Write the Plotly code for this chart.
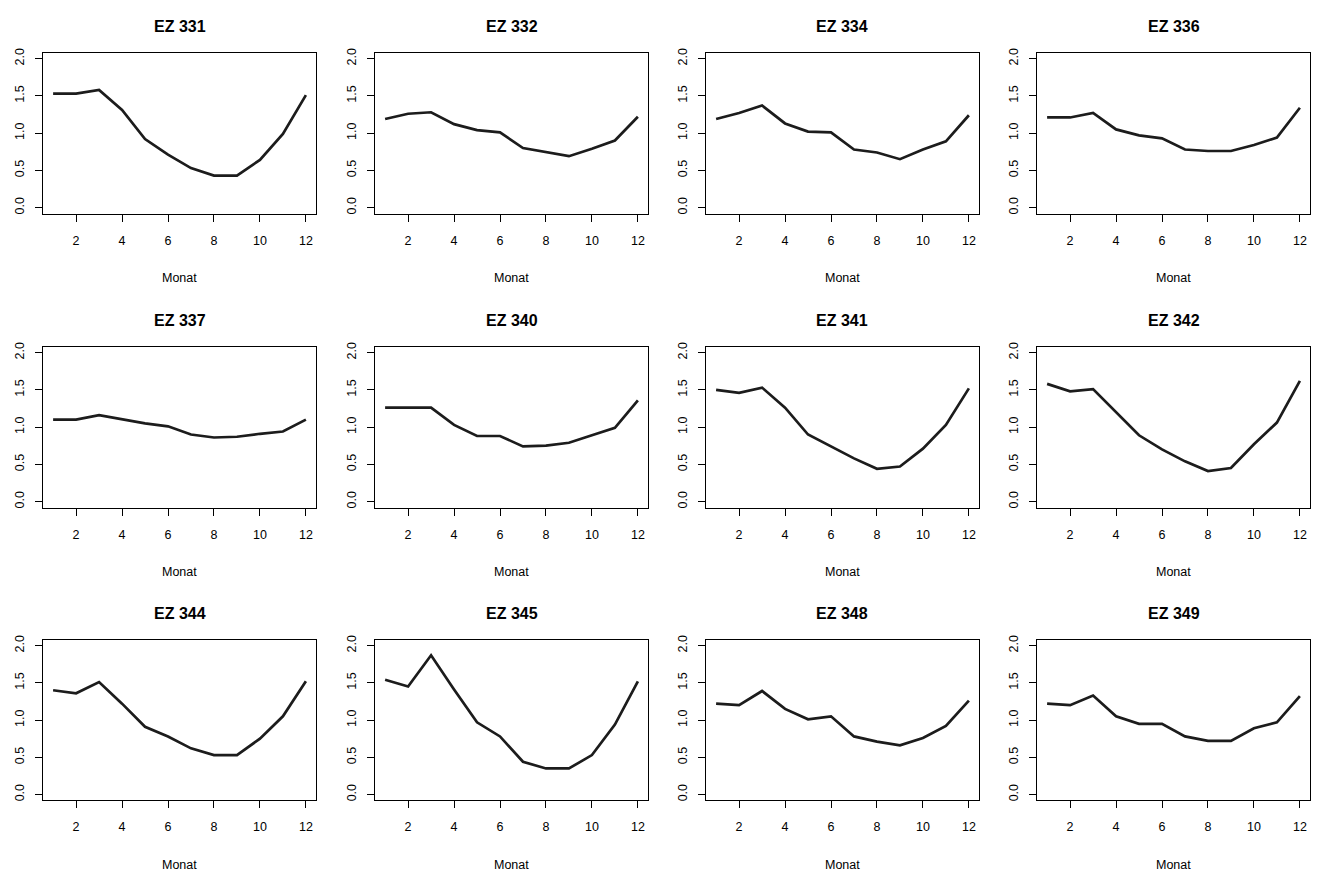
import plotly.graph_objects as go

# Monthly factors per station
months = list(range(1, 13))
stations = ["EZ 331", "EZ 332", "EZ 334", "EZ 336",
            "EZ 337", "EZ 340", "EZ 341", "EZ 342",
            "EZ 344", "EZ 345", "EZ 348", "EZ 349"]

ez331 = [1.53, 1.53, 1.58, 1.31, 0.92, 0.71, 0.53, 0.43, 0.43, 0.64, 0.99, 1.51]
ez332 = [1.19, 1.26, 1.28, 1.12, 1.04, 1.01, 0.80, 0.75, 0.69, 0.79, 0.90, 1.22]
ez334 = [1.19, 1.27, 1.37, 1.13, 1.02, 1.01, 0.78, 0.74, 0.65, 0.78, 0.89, 1.24]
ez336 = [1.21, 1.21, 1.27, 1.05, 0.97, 0.93, 0.78, 0.76, 0.76, 0.84, 0.94, 1.34]
ez337 = [1.10, 1.10, 1.16, 1.10, 1.05, 1.01, 0.90, 0.86, 0.87, 0.91, 0.94, 1.10]
ez340 = [1.26, 1.26, 1.26, 1.03, 0.88, 0.88, 0.74, 0.75, 0.79, 0.89, 0.99, 1.36]
ez341 = [1.50, 1.46, 1.53, 1.26, 0.90, 0.74, 0.58, 0.44, 0.47, 0.71, 1.03, 1.52]
ez342 = [1.58, 1.48, 1.51, 1.20, 0.89, 0.70, 0.54, 0.41, 0.45, 0.77, 1.06, 1.62]
ez344 = [1.40, 1.36, 1.51, 1.22, 0.91, 0.78, 0.62, 0.53, 0.53, 0.75, 1.05, 1.52]
ez345 = [1.54, 1.45, 1.87, 1.41, 0.97, 0.78, 0.44, 0.35, 0.35, 0.53, 0.94, 1.52]
ez348 = [1.22, 1.20, 1.39, 1.15, 1.01, 1.05, 0.78, 0.71, 0.66, 0.76, 0.92, 1.26]
ez349 = [1.22, 1.20, 1.33, 1.05, 0.95, 0.95, 0.78, 0.72, 0.72, 0.89, 0.97, 1.32]

series = [ez331, ez332, ez334, ez336, ez337, ez340,
          ez341, ez342, ez344, ez345, ez348, ez349]

x_ticks = [2, 4, 6, 8, 10, 12]
y_ticks = [0.0, 0.5, 1.0, 1.5, 2.0]

W, H = 1319, 873
box_left = [43, 375, 706, 1037]
box_w = 273
box_top = [48, 344, 639]
box_h = 162

FONT = "Liberation Sans, Arial, sans-serif"

fig = go.Figure()
layout = dict(
    width=W, height=H,
    margin=dict(l=0, r=0, t=0, b=0),
    paper_bgcolor="white", plot_bgcolor="white",
    showlegend=False,
    font=dict(family=FONT, color="black", size=12),
    annotations=[],
)

for i, (name, vals) in enumerate(zip(stations, series)):
    r, c = divmod(i, 4)
    k = "" if i == 0 else str(i + 1)
    x0 = box_left[c] / W
    x1 = (box_left[c] + box_w) / W
    y1 = 1 - box_top[r] / H
    y0 = 1 - (box_top[r] + box_h) / H

    fig.add_trace(go.Scatter(
        x=months, y=vals, mode="lines",
        line=dict(color="#1c1c1c", width=2.7),
        xaxis="x" + k, yaxis="y" + k,
        hoverinfo="skip",
    ))

    layout["xaxis" + k] = dict(
        domain=[x0, x1], range=[0.56, 12.44], anchor="y" + k,
        tickmode="array", tickvals=x_ticks, ticktext=[str(v) for v in x_ticks],
        ticks="outside", ticklen=7, tickwidth=1, tickcolor="black",
        showline=True, linecolor="black", linewidth=1, mirror=True,
        showgrid=False, zeroline=False, ticklabelstandoff=8,
        tickfont=dict(size=12.5, family=FONT, color="black"),
    )
    layout["yaxis" + k] = dict(
        domain=[y0, y1], range=[-0.08, 2.08], anchor="x" + k,
        tickmode="array", tickvals=y_ticks,
        ticktext=[f"{v:.1f}" for v in y_ticks],
        tickangle=-90,
        ticks="outside", ticklen=7, tickwidth=1, tickcolor="black",
        showline=True, linecolor="black", linewidth=1, mirror=True,
        showgrid=False, zeroline=False, ticklabelstandoff=6,
        tickfont=dict(size=12.5, family=FONT, color="black"),
    )

    cx = (box_left[c] + box_w / 2) / W
    layout["annotations"].append(dict(
        text=f"<b>{name}</b>", x=cx, y=1 - (box_top[r] - 26) / H,
        xref="paper", yref="paper", showarrow=False,
        xanchor="center", yanchor="middle",
        font=dict(size=16, family=FONT, color="black"),
    ))
    layout["annotations"].append(dict(
        text="Monat", x=cx, y=1 - (box_top[r] + box_h + 65) / H,
        xref="paper", yref="paper", showarrow=False,
        xanchor="center", yanchor="middle",
        font=dict(size=12.5, family=FONT, color="black"),
    ))

fig.update_layout(**layout)
fig.write_html("out.html")
